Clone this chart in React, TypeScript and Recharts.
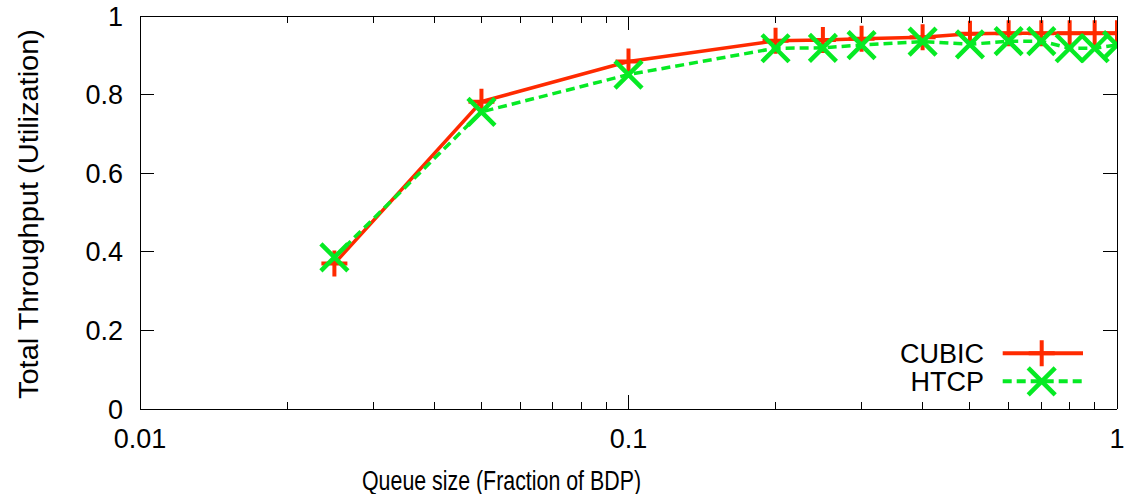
import React from 'react';
import { LineChart, Line, XAxis, YAxis, Legend } from 'recharts';

// ---- data ----
const queueSizes = [0.025, 0.05, 0.1, 0.2, 0.25, 0.3, 0.4, 0.5, 0.6, 0.7, 0.8, 0.9, 1.0];
const cubicValues = [0.37, 0.782, 0.884, 0.937, 0.939, 0.942, 0.946, 0.955, 0.956, 0.956, 0.956, 0.956, 0.956];
const htcpValues = [0.386, 0.756, 0.851, 0.918, 0.919, 0.926, 0.935, 0.928, 0.936, 0.936, 0.918, 0.918, 0.926];

const xMajorTicks = [0.01, 0.1, 1];
const xMinorTicks = [0.02, 0.03, 0.04, 0.05, 0.06, 0.07, 0.08, 0.09, 0.2, 0.3, 0.4, 0.5, 0.6, 0.7, 0.8, 0.9];
const yTicks = [0, 0.2, 0.4, 0.6, 0.8, 1];

const xTitle = 'Queue size (Fraction of BDP)';
const yTitle = 'Total Throughput (Utilization)';

const RED = '#ff2a00';
const GREEN = '#06ea24';
const FONT = "'Liberation Sans', Arial, Helvetica, sans-serif";

const data = queueSizes.map((x, i) => ({ x, CUBIC: cubicValues[i], HTCP: htcpValues[i] }));
const xAllTicks = [...xMajorTicks, ...xMinorTicks].sort((a, b) => a - b);
const isMajorX = (v: number) => xMajorTicks.some((t) => Math.abs(t - v) < 1e-9);

// ---- ticks ----
const BottomTick = (props: any) => {
  const { x, y, payload } = props;
  const v = payload.value;
  const major = isMajorX(v);
  return (
    <g>
      <line x1={x} y1={y} x2={x} y2={y - (major ? 14 : 7)} stroke="#000" strokeWidth={1} shapeRendering="crispEdges" />
      {major && (
        <text x={x} y={y + 39} textAnchor="middle" fontSize={27} fontFamily={FONT} fill="#000">
          {String(v)}
        </text>
      )}
    </g>
  );
};

const TopTick = (props: any) => {
  const { x, y, payload } = props;
  const major = isMajorX(payload.value);
  return (
    <line x1={x} y1={y} x2={x} y2={y + (major ? 14 : 7)} stroke="#000" strokeWidth={1} shapeRendering="crispEdges" />
  );
};

const LeftTick = (props: any) => {
  const { x, y, payload } = props;
  return (
    <g>
      <line x1={x} y1={y} x2={x + 14} y2={y} stroke="#000" strokeWidth={1} shapeRendering="crispEdges" />
      <text x={x - 17} y={y + 9.5} textAnchor="end" fontSize={27} fontFamily={FONT} fill="#000">
        {String(payload.value)}
      </text>
    </g>
  );
};

const RightTick = (props: any) => {
  const { x, y } = props;
  return <line x1={x} y1={y} x2={x - 14} y2={y} stroke="#000" strokeWidth={1} shapeRendering="crispEdges" />;
};

// ---- markers ----
const plusPath = (cx: number, cy: number, s: number) => `M${cx - s},${cy}H${cx + s}M${cx},${cy - s}V${cy + s}`;
const crossPath = (cx: number, cy: number, s: number) =>
  `M${cx - s},${cy - s}L${cx + s},${cy + s}M${cx - s},${cy + s}L${cx + s},${cy - s}`;

const PlusDot = (p: any) => {
  const { cx, cy } = p;
  if (cx == null || cy == null) return <g />;
  return <path d={plusPath(cx, cy, 13)} stroke={RED} strokeWidth={4} fill="none" />;
};

const CrossDot = (p: any) => {
  const { cx, cy } = p;
  if (cx == null || cy == null) return <g />;
  return <path d={crossPath(cx, cy, 13.5)} stroke={GREEN} strokeWidth={4.5} fill="none" />;
};

const seriesStyle: Record<string, { color: string; dash?: string; marker: 'plus' | 'cross' }> = {
  CUBIC: { color: RED, marker: 'plus' },
  HTCP: { color: GREEN, dash: '9 5', marker: 'cross' },
};

// ---- legend ----
const renderLegend = (props: any) => {
  const payload = props.payload || [];
  return (
    <svg width={240} height={70} style={{ display: 'block', overflow: 'visible' }}>
      {payload.map((entry: any, i: number) => {
        const st = seriesStyle[entry.value];
        const cy = 18.3 + i * 28;
        const mx = 171.7;
        return (
          <g key={entry.value}>
            <text x={114} y={cy + 9.7} textAnchor="end" fontSize={27} fontFamily={FONT} fill="#000">
              {entry.value}
            </text>
            <line x1={132.7} y1={cy} x2={213} y2={cy} stroke={st.color} strokeWidth={4} strokeDasharray={st.dash} />
            {st.marker === 'plus' ? (
              <path d={plusPath(mx, cy, 13)} stroke={st.color} strokeWidth={4} fill="none" />
            ) : (
              <path d={crossPath(mx, cy, 13.5)} stroke={st.color} strokeWidth={4.5} fill="none" />
            )}
          </g>
        );
      })}
    </svg>
  );
};

// ---- axis titles ----
const XTitle = () => (
  <text
    x={362}
    y={489.5}
    textAnchor="start"
    fontSize={27}
    fontFamily={FONT}
    fill="#000"
    textLength={279}
    lengthAdjust="spacingAndGlyphs"
  >
    {xTitle}
  </text>
);

const YTitle = () => (
  <text
    transform="translate(37.5,214) rotate(-90)"
    x={0}
    y={0}
    textAnchor="middle"
    fontSize={27}
    fontFamily={FONT}
    fill="#000"
    textLength={370}
    lengthAdjust="spacingAndGlyphs"
  >
    {yTitle}
  </text>
);

export default function App() {
  const axisLine = { stroke: '#000', strokeWidth: 1, shapeRendering: 'crispEdges' } as any;
  return (
    <div style={{ position: 'absolute', left: 0, top: 0, width: 1128, height: 494, background: '#fff' }}>
      <LineChart width={1128} height={494} data={data} margin={{ top: 16, right: 11, bottom: 45, left: 80 }}>
        <XAxis
          xAxisId="b"
          dataKey="x"
          type="number"
          scale="log"
          domain={[0.01, 1]}
          allowDataOverflow
          ticks={xAllTicks}
          interval={0}
          tick={<BottomTick />}
          tickLine={false}
          tickSize={0}
          tickMargin={0}
          height={40}
          axisLine={axisLine}
          label={<XTitle />}
        />
        <XAxis
          xAxisId="t"
          orientation="top"
          mirror
          dataKey="x"
          type="number"
          scale="log"
          domain={[0.01, 1]}
          allowDataOverflow
          ticks={xAllTicks}
          interval={0}
          tick={<TopTick />}
          tickLine={false}
          tickSize={0}
          tickMargin={0}
          height={30}
          axisLine={axisLine}
        />
        <YAxis
          yAxisId="l"
          type="number"
          domain={[0, 1]}
          allowDataOverflow
          ticks={yTicks}
          interval={0}
          tick={<LeftTick />}
          tickLine={false}
          tickSize={0}
          tickMargin={0}
          width={60}
          axisLine={axisLine}
          label={<YTitle />}
        />
        <YAxis
          yAxisId="r"
          orientation="right"
          mirror
          type="number"
          domain={[0, 1]}
          allowDataOverflow
          ticks={yTicks}
          interval={0}
          tick={<RightTick />}
          tickLine={false}
          tickSize={0}
          tickMargin={0}
          width={30}
          axisLine={axisLine}
        />
        <Legend
          layout="horizontal"
          align="center"
          verticalAlign="middle"
          content={renderLegend}
          wrapperStyle={{ left: 870, top: 335, width: 240, height: 70 }}
        />
        <Line
          xAxisId="b"
          yAxisId="l"
          dataKey="CUBIC"
          name="CUBIC"
          type="linear"
          stroke={RED}
          strokeWidth={3.5}
          dot={PlusDot}
          activeDot={false}
          isAnimationActive={false}
        />
        <Line
          xAxisId="b"
          yAxisId="l"
          dataKey="HTCP"
          name="HTCP"
          type="linear"
          stroke={GREEN}
          strokeWidth={3.5}
          strokeDasharray="9 5"
          dot={CrossDot}
          activeDot={false}
          isAnimationActive={false}
        />
      </LineChart>
    </div>
  );
}
